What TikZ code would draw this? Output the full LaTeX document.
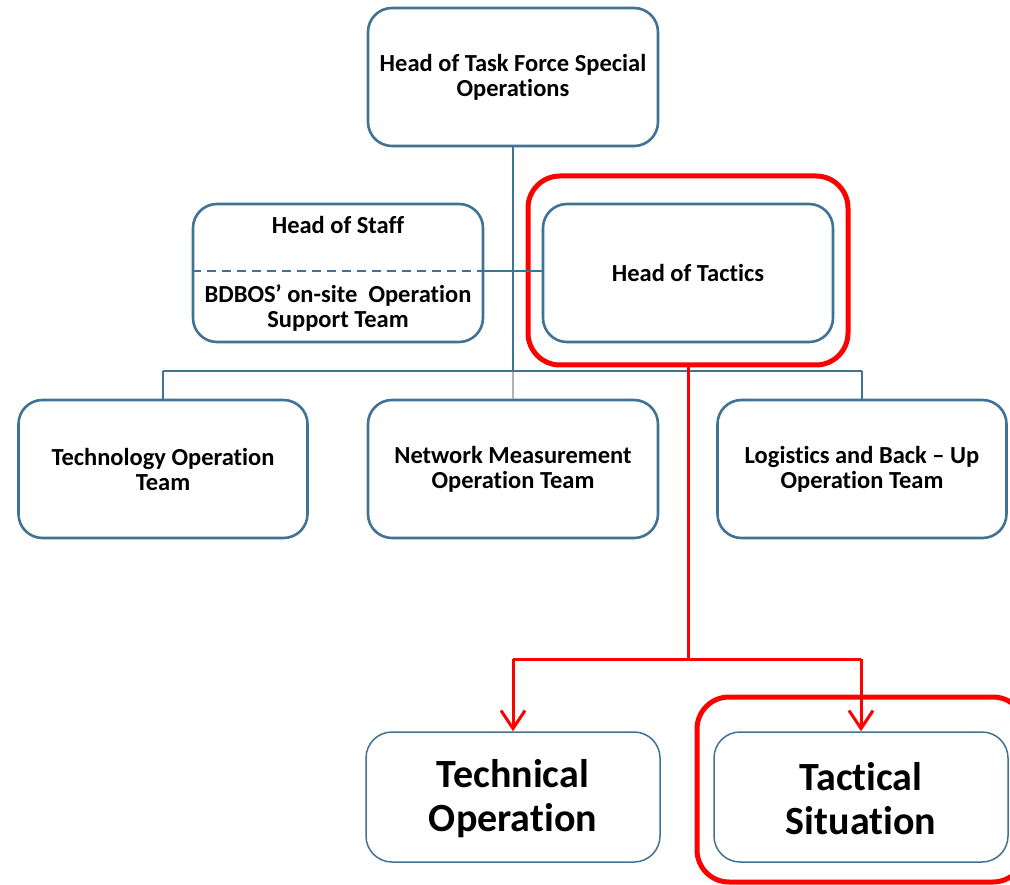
\documentclass[tikz,border=0pt]{standalone}
\usepackage{fontspec}
\setmainfont{Carlito}[Ligatures={NoCommon}]
\usetikzlibrary{arrows.meta}
\definecolor{boxblue}{RGB}{64,114,148}
\definecolor{hlred}{RGB}{255,0,0}
\tikzset{
  orgbox/.style={draw=boxblue, line width=2.6pt, rounded corners=24pt, fill=white,
    minimum width=290pt, minimum height=138pt, inner sep=0pt, align=center,
    font=\bfseries\fontsize{24.5pt}{25pt}\selectfont},
  bigbox/.style={draw=boxblue, line width=1.5pt, rounded corners=26pt, fill=white,
    minimum width=294pt, minimum height=130pt, inner sep=0pt, align=center,
    font=\bfseries\fontsize{40pt}{44pt}\selectfont},
  hlbox/.style={draw=hlred, line width=5pt, rounded corners=32pt,
    inner sep=0pt},
  conn/.style={draw=boxblue, line width=2.4pt},
  redconn/.style={draw=hlred, line width=3pt},
  txt/.style={inner sep=0pt, align=center, font=\bfseries\fontsize{24.5pt}{25pt}\selectfont},
  bigtxt/.style={inner sep=0pt, align=center, font=\bfseries\fontsize{40pt}{44pt}\selectfont}
}
\begin{document}
\begin{tikzpicture}[x=1pt,y=-1pt]
\useasboundingbox (0,0) rectangle (1010,885);
\clip (0,0) rectangle (1010,885);
% highlight frames
\node[hlbox, minimum width=320pt, minimum height=189pt] (hl1) at (688,270.5) {};
\node[hlbox, minimum width=328pt, minimum height=185pt] (hl2) at (861,789.5) {};
% connectors (blue tree)
\coordinate (j) at (513,371);
\coordinate (jl) at (163,371);
\coordinate (jr) at (862,371);
\node[orgbox] (top) at (513,77) {Head of Task Force Special\\Operations};
\node[orgbox] (staff) at (338,273) {};
\node[orgbox] (tac) at (688,273) {Head of Tactics};
\node[orgbox, minimum width=289pt] (tech) at (163,469) {Technology Operation\\Team};
\node[orgbox] (net) at (513,469) {Network Measurement\\Operation Team};
\node[orgbox, minimum width=289pt] (log) at (862,469) {Logistics and Back -- Up\\Operation Team};
\draw[conn] (top.south) -- (j);
\draw[draw=gray!60, line width=2pt] (j) -- (net.north);
\draw[conn] (jl) -- (jr);
\draw[conn] (jl) -- (tech.north);
\draw[conn] (jr) -- (log.north);
\draw[conn] (staff.east |- 0,271) -- (tac.west |- 0,271);
\draw[conn, line width=1.8pt, dash pattern=on 9pt off 6pt] (staff.west |- 0,271) -- (staff.east |- 0,271);
% head of staff texts
\node[txt] (staffa) at (338,225) {Head of Staff};
\node[txt] (staffb) at (338,308.5) {BDBOS' on-site~ Operation\\Support Team};
% red connectors
\coordinate (rj) at (688,659);
\coordinate (rl) at (513,659);
\coordinate (rr) at (861,659);
\node[bigbox] (techop) at (513,797) {};
\node[bigbox] (tacsit) at (861,797) {};
\node[bigtxt] (techopt) at (513,799) {Technical\\Operation};
\node[bigtxt] (tacsitt) at (861,799) {Tactical\\Situation};
\draw[redconn] (hl1.south -| rj) -- (rj);
\draw[redconn] (rl) -- (rr);
\draw[redconn, -{Straight Barb[length=18pt, width=24pt, line width=3pt]}] (rl) -- (techop.north);
\draw[redconn, -{Straight Barb[length=18pt, width=24pt, line width=3pt]}] (rr) -- (tacsit.north -| rr) ;
\end{tikzpicture}
\end{document}
